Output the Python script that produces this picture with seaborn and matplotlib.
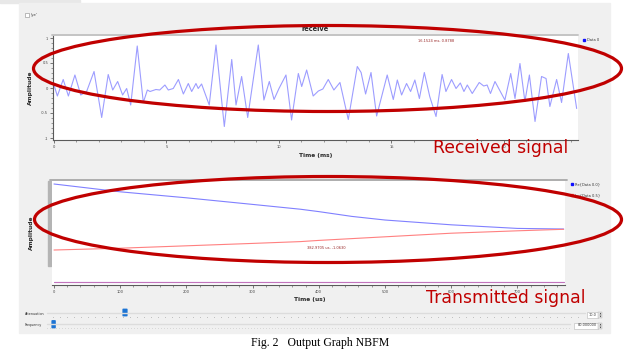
import matplotlib
matplotlib.use("Agg")
import matplotlib.pyplot as plt
from matplotlib.patches import Ellipse, Rectangle, FancyBboxPatch
from matplotlib.ticker import MultipleLocator
import seaborn as sns

# received signal (ms, amplitude)
rx_time = [0, 0.15, 0.41, 0.64, 0.93, 1.19, 1.45, 1.78, 2.12, 2.41, 2.61, 2.83, 3.05, 3.23,
           3.41, 3.70, 3.97, 4.15, 4.27, 4.53, 4.70, 4.93, 5.08, 5.30, 5.53, 5.75, 5.97, 6.12,
           6.31, 6.41, 6.56, 6.90, 7.20, 7.57, 7.90, 8.09, 8.34, 8.61, 9.08, 9.33, 9.57, 9.78,
           10.00, 10.31, 10.56, 10.86, 11.01, 11.23, 11.52, 11.75, 11.95, 12.19, 12.44, 12.71,
           13.08, 13.48, 13.65, 13.85, 14.09, 14.34, 14.81, 15.08, 15.26, 15.45, 15.67, 15.85,
           16.04, 16.24, 16.46, 16.70, 16.98, 17.25, 17.42, 17.67, 17.87, 18.06, 18.22, 18.37,
           18.59, 18.90, 19.10, 19.25, 19.40, 19.60, 20.04, 20.30, 20.49, 20.71, 20.93, 21.13,
           21.38, 21.67, 21.87, 22.04, 22.34, 22.56, 22.86, 23.23]
rx_amp = [0.06, -0.16, 0.17, -0.16, 0.26, -0.14, -0.07, 0.33, -0.59, 0.27, -0.04, 0.13, -0.14, -0.01,
          -0.34, 0.84, -0.29, -0.04, -0.07, -0.03, -0.04, 0.06, -0.04, -0.01, 0.17, -0.12, 0.09, -0.07,
          0.09, -0.01, 0.08, -0.34, 0.86, -0.77, 0.57, -0.34, 0.23, -0.59, 0.86, -0.24, 0.13, -0.23,
          -0.01, 0.26, -0.64, 0.29, 0.03, 0.36, -0.16, -0.06, -0.02, 0.17, -0.04, 0.11,
          -0.63, 0.43, 0.31, -0.12, 0.31, -0.56, 0.26, -0.23, 0.16, -0.14, 0.09, -0.07,
          0.16, -0.21, 0.31, -0.17, -0.57, 0.27, -0.07, 0.17, -0.01, 0.10, -0.07, 0.06,
          -0.11, 0.11, 0.04, 0.06, -0.11, 0.13, -0.24, 0.29, -0.21, 0.49, -0.27, 0.26,
          -0.67, 0.23, 0.19, -0.37, 0.17, -0.29, 0.69, -0.41]

# transmitted signal (us), arbitrary amplitude units (the plot shows no y labels)
tx_time = [0, 100, 200, 300, 372, 400, 450, 500, 600, 700, 770]
tx_re = [0.75, 0.62, 0.52, 0.41, 0.33, 0.29, 0.21, 0.15, 0.07, 0.01, 0.0]
tx_im = [-0.35, -0.32, -0.28, -0.24, -0.21, -0.19, -0.16, -0.13, -0.07, -0.03, -0.005]
floor_time = [0, 770]
floor_val = [-0.89, -0.89]

rx_ticks = [0, 5, 10, 15, 20]
rx_yticks = [-1, -0.5, 0, 0.5, 1]
rx_ylabels = ['-1', '-0.5', '0', '0.5', '1']
tx_ticks = [0, 100, 200, 300, 400, 500, 600, 700]

W, H = 643, 356
RED = '#c00000'
DARKRED = '#9a2a2a'

sns.set_style("ticks")
plt.rcParams['font.family'] = ['DejaVu Sans']


def place(l, t, r, b, z):
    # axes from a pixel box of the screenshot
    return fig.add_axes([l / W, 1 - b / H, (r - l) / W, (b - t) / H], zorder=z)


fig = plt.figure(figsize=(6.43, 3.56), dpi=100)
fig.patch.set_facecolor('white')

# gui background, drawn in pixel coordinates
bg = fig.add_axes([0, 0, 1, 1], zorder=0)
bg.set_xlim(0, W)
bg.set_ylim(H, 0)
bg.axis('off')
bg.add_patch(Rectangle((0, 0), 80, 3, color='#e8e8e8'))
bg.add_patch(Rectangle((19, 3), 591, 330, color='#f0f0f0'))
bg.add_patch(Rectangle((25, 13), 4, 4, fc='white', ec='#8a8a8a', lw=0.4))
bg.text(31, 15, "'ye'", fontsize=2.8, va='center', color='#333333')

# title bar + labels of the receive plot
bg.plot([52, 578], [35, 35], color='#c4c4c4', lw=1.4)
bg.text(315.5, 29, 'receive', fontsize=4.8, fontweight='bold', ha='center', va='center')
bg.text(30.5, 88, 'Amplitude', fontsize=4.2, fontweight='bold', rotation=90, ha='center', va='center')
bg.text(316, 155, 'Time (ms)', fontsize=4.2, fontweight='bold', ha='center', va='center')
bg.add_patch(Rectangle((582.5, 38.5), 2.5, 2.5, color='#1010ff'))
bg.text(587, 40, 'Data 0', fontsize=2.6, va='center', color='#333333')

# frame + labels of the transmit plot
bg.plot([50, 567], [180, 180], color='#a8a8a8', lw=1.3)
bg.add_patch(Rectangle((48, 181), 3, 85, color='#b4b4b4'))
bg.plot([52.5, 52.5], [269, 284], color='#909090', lw=1.0)
bg.text(31.5, 233, 'Amplitude', fontsize=4.2, fontweight='bold', rotation=90, ha='center', va='center')
bg.text(310, 299, 'Time (us)', fontsize=4.2, fontweight='bold', ha='center', va='center')
bg.add_patch(Rectangle((570.5, 182.5), 2.5, 2.5, color='#1010ff'))
bg.text(575, 184, 'Re{Data 0.0}', fontsize=2.6, va='center', color='#333333')
bg.add_patch(Rectangle((570.5, 193.5), 2.5, 2.5, color='#ff6060'))
bg.text(575, 195, 'Im{Data 0.5}', fontsize=2.6, va='center', color='#333333')

# sliders
bg.text(25, 314, 'Attenuation', fontsize=2.4, va='center', color='#333333')
bg.plot([47, 585], [312.7, 312.7], color='#dcdcdc', lw=1.0)
for px in range(53, 582, 7):
    bg.plot(px, 316.7, marker='s', ms=0.5, color='#b0b0b0', mew=0)
bg.add_patch(FancyBboxPatch((123.3, 309.5), 3.4, 6, boxstyle='round,pad=0.2', color='#1c74d4'))
bg.add_patch(Rectangle((587, 311.5), 10.5, 6, fc='white', ec='#b8b8b8', lw=0.4))
bg.text(596.5, 314.5, '10.0', fontsize=2.5, ha='right', va='center', color='#333333')
bg.text(25, 325.3, 'Frequency', fontsize=2.4, va='center', color='#333333')
bg.plot([47, 570], [324, 324], color='#dcdcdc', lw=1.0)
for px in range(47, 570, 3):
    bg.plot(px, 328.3, marker='s', ms=0.4, color='#c4c4c4', mew=0)
bg.add_patch(FancyBboxPatch((52.3, 321), 2.6, 6.5, boxstyle='round,pad=0.2', color='#1c74d4'))
bg.add_patch(Rectangle((574, 322.5), 23.5, 6, fc='white', ec='#b8b8b8', lw=0.4))
bg.text(596.5, 325.5, '80.000000', fontsize=2.5, ha='right', va='center', color='#333333')
for sy in (314.5, 325.5):
    bg.add_patch(Rectangle((598, sy - 3), 4, 6, fc='#e4e4e4', ec='#b0b0b0', lw=0.3))
    bg.plot(600, sy - 1.4, marker='^', ms=1.2, color='#333333', mew=0)
    bg.plot(600, sy + 1.4, marker='v', ms=1.2, color='#333333', mew=0)

bg.text(320.5, 343, 'Fig. 2   Output Graph NBFM', fontsize=8.5, family='Liberation Serif',
        ha='center', va='center', color='black')

# receive plot
ax1 = place(53, 36, 578, 140, 1)
ax1.set_facecolor('white')
sns.lineplot(x=rx_time, y=rx_amp, ax=ax1, color='#9d9dff', lw=0.8, sort=False, legend=False)
ax1.set_xlim(-0.044, 23.29)
ax1.set_ylim(-1.04, 1.04)
ax1.set_xticks(rx_ticks)
ax1.set_yticks(rx_yticks, rx_ylabels)
ax1.xaxis.set_minor_locator(MultipleLocator(1))
ax1.yaxis.set_minor_locator(MultipleLocator(0.1))
ax1.text(17.0, 0.94, '16.1524 ms, 0.8788', fontsize=2.6, color=DARKRED, ha='center', va='center')
ax1.set_xlabel('')
ax1.set_ylabel('')

# transmit plot
ax2 = place(52, 181, 565, 285, 1)
ax2.set_facecolor('white')
sns.lineplot(x=tx_time, y=tx_re, ax=ax2, color='#8080ff', lw=0.8, legend=False)
sns.lineplot(x=tx_time, y=tx_im, ax=ax2, color='#ff8080', lw=0.8, legend=False)
sns.lineplot(x=floor_time, y=floor_val, ax=ax2, color='#8080ff', lw=0.8, legend=False)
sns.lineplot(x=floor_time, y=floor_val, ax=ax2, color='#e070a0', lw=0.8, alpha=0.7, legend=False)
ax2.set_xlim(-3.0, 772)
ax2.set_ylim(-0.933, 0.8)
ax2.set_xticks(tx_ticks)
ax2.set_yticks([])
ax2.xaxis.set_minor_locator(MultipleLocator(20))
ax2.text(382.97, -0.31, '382.9705 us, -1.0630', fontsize=2.6, color=DARKRED,
         ha='left', va='center')
ax2.set_xlabel('')
ax2.set_ylabel('')

for ax, spines in ((ax1, ('left', 'bottom')), (ax2, ('bottom',))):
    for name, sp in ax.spines.items():
        sp.set_visible(name in spines)
        sp.set_color('#5a5a5a')
        sp.set_linewidth(0.8)
    ax.tick_params(which='major', direction='out', length=2.2, width=0.5,
                   labelsize=2.6, pad=1.2, colors='#444444')
    ax.tick_params(which='minor', direction='out', length=1.1, width=0.4, colors='#555555')

# red callouts drawn over everything
ov = fig.add_axes([0, 0, 1, 1], zorder=5)
ov.set_xlim(0, W)
ov.set_ylim(H, 0)
ov.axis('off')
ov.patch.set_alpha(0)
ov.add_patch(Ellipse((327.5, 68.5), 588, 86, fill=False, ec=RED, lw=2.3))
ov.add_patch(Ellipse((328, 219.5), 587, 86, fill=False, ec=RED, lw=2.3))
ov.text(501, 148, 'Received signal', fontsize=12.4, color=RED, ha='center', va='center')
ov.text(505.5, 298, 'Transmitted signal', fontsize=12.4, color=RED, ha='center', va='center')

fig.savefig('out.png', dpi=100)
